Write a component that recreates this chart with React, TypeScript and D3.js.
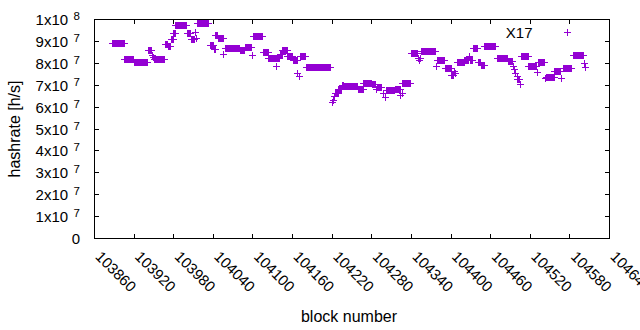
import React from 'react';
import * as d3 from 'd3';

// Runs of consecutive blocks sharing the same hashrate (start block, end block, value in h/s)
const runStart = [
  103887, 103906, 103920, 103942, 103948, 103950, 103951, 103967, 103972, 103976,
  103980, 103983, 104001, 104007, 104013, 104014, 104016, 104035, 104041, 104044,
  104048, 104056, 104058, 104081, 104088, 104099, 104101, 104116, 104124, 104136,
  104137, 104141, 104145, 104153, 104161, 104168, 104170, 104172, 104181, 104220,
  104222, 104224, 104225, 104230, 104235, 104238, 104260, 104268, 104281, 104287,
  104288, 104297, 104300, 104302, 104316, 104324, 104326, 104327, 104340, 104350,
  104352, 104354, 104356, 104378, 104380, 104391, 104401, 104405, 104407, 104410,
  104421, 104428, 104429, 104434, 104441, 104446, 104451, 104470, 104487, 104494,
  104496, 104498, 104500, 104501, 104505, 104506, 104518, 104531, 104532, 104543,
  104545, 104557, 104567, 104570, 104585, 104602, 104604,
];
const runEnd = [
  103905, 103919, 103941, 103947, 103948, 103950, 103966, 103971, 103975, 103979,
  103982, 104000, 104006, 104012, 104013, 104015, 104032, 104040, 104043, 104047,
  104055, 104056, 104080, 104087, 104098, 104099, 104115, 104123, 104135, 104136,
  104140, 104144, 104152, 104160, 104167, 104168, 104170, 104179, 104218, 104220,
  104222, 104224, 104229, 104234, 104237, 104259, 104267, 104280, 104286, 104287,
  104295, 104297, 104300, 104315, 104323, 104324, 104326, 104339, 104349, 104350,
  104352, 104354, 104377, 104378, 104390, 104400, 104404, 104405, 104407, 104420,
  104427, 104428, 104433, 104440, 104445, 104450, 104468, 104486, 104493, 104494,
  104496, 104498, 104500, 104504, 104505, 104517, 104530, 104531, 104542, 104543,
  104556, 104566, 104567, 104583, 104601, 104602, 104604,
];
const runValue = [
  8.89e7, 8.16e7, 8.05e7, 8.6e7, 8.35e7, 8.25e7, 8.16e7, 8.84e7, 8.75e7, 9.1e7,
  9.35e7, 9.71e7, 9.35e7, 9.1e7, 9.4e7, 9.15e7, 9.8e7, 8.8e7, 8.62e7, 9.25e7,
  9.12e7, 8.4e7, 8.66e7, 8.58e7, 8.73e7, 8.37e7, 9.24e7, 8.48e7, 8.23e7, 7.85e7,
  8.2e7, 8.4e7, 8.58e7, 8.3e7, 8.15e7, 7.55e7, 7.38e7, 8.3e7, 7.82e7, 6.2e7,
  6.3e7, 6.5e7, 6.6e7, 6.8e7, 7.0e7, 6.92e7, 6.8e7, 7.09e7, 7.03e7, 6.8e7,
  6.9e7, 6.6e7, 6.45e7, 6.75e7, 6.82e7, 6.55e7, 6.6e7, 7.07e7, 8.46e7, 8.2e7,
  8.12e7, 8.22e7, 8.52e7, 7.85e7, 8.13e7, 7.78e7, 7.45e7, 7.62e7, 7.55e7, 8.03e7,
  8.15e7, 8.3e7, 8.15e7, 8.66e7, 8.05e7, 7.9e7, 8.75e7, 8.22e7, 8.1e7, 7.85e7,
  7.7e7, 7.55e7, 7.42e7, 7.25e7, 7.05e7, 8.3e7, 7.85e7, 7.6e7, 8.05e7, 7.3e7,
  7.37e7, 7.62e7, 7.3e7, 7.78e7, 8.36e7, 7.97e7, 7.82e7,
];

const xTicks = [103860, 103920, 103980, 104040, 104100, 104160, 104220, 104280, 104340, 104400, 104460, 104520, 104580, 104640];
const yTickMant = ['0', '1', '2', '3', '4', '5', '6', '7', '8', '9', '1'];
const yTickExp = ['', '7', '7', '7', '7', '7', '7', '7', '7', '7', '8'];
const yTicks = [0, 1e7, 2e7, 3e7, 4e7, 5e7, 6e7, 7e7, 8e7, 9e7, 1e8];
const seriesName = 'X17';
const xLabel = 'block number';
const yLabel = 'hashrate [h/s]';

const COLOR = '#9400d3';
const FONT = '"Liberation Sans", Arial, sans-serif';

function plusPath(p: d3.Path, cx: number, cy: number) {
  p.moveTo(cx - 3.5, cy);
  p.lineTo(cx + 3.5, cy);
  p.moveTo(cx, cy - 3.5);
  p.lineTo(cx, cy + 3.5);
}

export default function App() {
  const W = 640, H = 330;
  const left = 94.5, right = 609.5, top = 19.5, bottom = 238.5;
  const x = d3.scaleLinear().domain([103860, 104640]).range([left, right]);
  const y = d3.scaleLinear().domain([0, 1e8]).range([bottom, top]);
  const snap = (v: number) => Math.round(v - 0.5) + 0.5;

  const points: [number, number][] = runStart.flatMap((s, i) =>
    d3.range(s, runEnd[i] + 1).map((b) => [b, runValue[i]] as [number, number])
  );
  const p = d3.path();
  points.forEach(([b, v]) => plusPath(p, snap(x(b)), snap(y(v))));

  const leg = d3.path();
  plusPath(leg, 567.5, 32.5);

  const fs = 15;

  return (
    <svg width={W} height={H} style={{ position: 'absolute', left: 0, top: 0, background: '#fff' }} fontFamily={FONT}>
      <rect x={0} y={0} width={W} height={H} fill="#fff" />
      {/* ticks */}
      <g stroke="#000" strokeWidth={1} shapeRendering="crispEdges">
        {yTicks.map((t) => {
          const yy = snap(y(t));
          return (
            <g key={'y' + t}>
              <line x1={left} x2={left + 4.5} y1={yy} y2={yy} />
              <line x1={right - 4.5} x2={right} y1={yy} y2={yy} />
            </g>
          );
        })}
        {xTicks.map((t) => {
          const xx = snap(x(t));
          return (
            <g key={'x' + t}>
              <line x1={xx} x2={xx} y1={bottom} y2={bottom - 4.5} />
              <line x1={xx} x2={xx} y1={top} y2={top + 4.5} />
            </g>
          );
        })}
        <rect x={left} y={top} width={right - left} height={bottom - top} fill="none" />
      </g>
      {/* y tick labels */}
      {yTicks.map((t, i) => {
        const yy = y(t);
        return (
          <text key={'yl' + t} x={80} y={yy + 5.5} textAnchor="end" fontSize={fs} fill="#000">
            {yTickExp[i] === '' ? (
              yTickMant[i]
            ) : (
              <>
                <tspan>{yTickMant[i] + 'x10'}</tspan>
                <tspan dx={5.5} dy={-5} fontSize={11.5}>{yTickExp[i]}</tspan>
              </>
            )}
          </text>
        );
      })}
      {/* x tick labels */}
      {xTicks.map((t) => {
        const xx = x(t);
        return (
          <text key={'xl' + t} transform={`translate(${xx},${257.5}) rotate(45)`} fontSize={15} fill="#000">
            {String(t)}
          </text>
        );
      })}
      {/* axis labels */}
      <text x={349} y={322} textAnchor="middle" fontSize={16} fill="#000">{xLabel}</text>
      <text transform="translate(20,129) rotate(-90)" textAnchor="middle" fontSize={16} fill="#000">{yLabel}</text>
      {/* data */}
      <path d={p.toString()} stroke={COLOR} strokeWidth={1} fill="none" shapeRendering="crispEdges" />
      {/* legend */}
      <text x={532.5} y={37.7} textAnchor="end" fontSize={fs} fill="#000">{seriesName}</text>
      <path d={leg.toString()} stroke={COLOR} strokeWidth={1} fill="none" shapeRendering="crispEdges" />
    </svg>
  );
}
